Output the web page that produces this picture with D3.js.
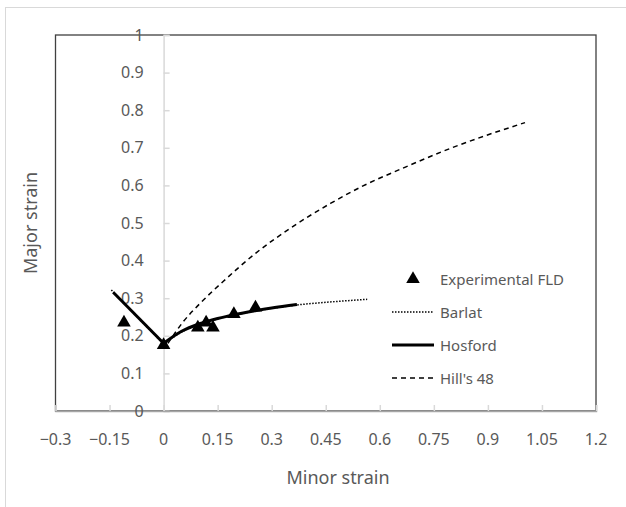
<!DOCTYPE html>
<html>
<head>
<meta charset="utf-8">
<script src="https://cdn.jsdelivr.net/npm/d3@7"></script>
<style>
  body { margin: 0; background: #fff; }
  svg { display: block; font-family: "Noto Sans", "Open Sans", sans-serif; }
</style>
</head>
<body>
<svg width="626" height="507"></svg>
<script>
// data
var xTicks = [-0.3, -0.15, 0, 0.15, 0.3, 0.45, 0.6, 0.75, 0.9, 1.05, 1.2]
var yTicks = [0, 0.1, 0.2, 0.3, 0.4, 0.5, 0.6, 0.7, 0.8, 0.9, 1]

var expX = [-0.11, 0, 0.095, 0.118, 0.137, 0.195, 0.255]
var expY = [0.235, 0.175, 0.222, 0.235, 0.222, 0.258, 0.275]

var barlatX = [-0.145, 0, 0.05, 0.1, 0.15, 0.2, 0.25, 0.3, 0.37, 0.45, 0.565]
var barlatY = [0.322, 0.178, 0.21, 0.231, 0.245, 0.256, 0.265, 0.273, 0.282, 0.289, 0.297]

var hosLeftX = [-0.14, 0]
var hosLeftY = [0.316, 0.18]
var hosRightX = [0, 0.05, 0.1, 0.15, 0.2, 0.25, 0.3, 0.37]
var hosRightY = [0.18, 0.212, 0.232, 0.246, 0.257, 0.266, 0.274, 0.283]

var hillX = [0.012, 0.055, 0.1, 0.166, 0.256, 0.35, 0.463, 0.55, 0.662, 0.8, 1.003]
var hillY = [0.18, 0.238, 0.285, 0.345, 0.42, 0.485, 0.552, 0.597, 0.645, 0.7, 0.767]

var legendNames = ['Experimental FLD', 'Barlat', 'Hosford', "Hill's 48"]

var svg = d3.select('svg')
var grey = '#595959'

var x = d3.scaleLinear().domain([-0.3, 1.2]).range([55.5, 596])
var y = d3.scaleLinear().domain([0, 1]).range([411, 35])

// outer chart frame
svg.append('rect')
    .attr('x', 5.5).attr('y', 7.5)
    .attr('width', 660).attr('height', 540)
    .style('fill', 'none')
    .style('stroke', '#d9d9d9')

// plot frame
svg.append('rect')
    .attr('x', x(-0.3)).attr('y', y(1))
    .attr('width', x(1.2) - x(-0.3)).attr('height', y(0) - y(1))
    .style('fill', 'none')
    .style('stroke', '#404040')
    .style('stroke-width', 1.3)

// y axis at x = 0
var yAxis = d3.axisRight(y).tickValues(yTicks).tickSize(6).tickFormat('')
var gy = svg.append('g')
    .attr('transform', 'translate(' + x(0) + ',0)')
    .call(yAxis)
gy.selectAll('line, path').style('stroke', '#d9d9d9').style('stroke-width', 1.5)

// x axis at y = 0
var xAxis = d3.axisTop(x).tickValues(xTicks).tickSize(6).tickFormat('')
var gx = svg.append('g')
    .attr('transform', 'translate(0,' + y(0) + ')')
    .call(xAxis)
gx.selectAll('line').style('stroke', '#d9d9d9').style('stroke-width', 1.5)
gx.select('path').style('stroke', '#a6a6a6').style('stroke-width', 1.5)

// tick labels
svg.append('g').selectAll('text')
    .data(xTicks)
    .join('text')
    .attr('x', d => x(d))
    .attr('y', 445)
    .attr('text-anchor', 'middle')
    .style('font-size', '16px')
    .style('fill', grey)
    .text(d => d3.format('')(d))

svg.append('g').selectAll('text')
    .data(yTicks)
    .join('text')
    .attr('x', x(0) - 20)
    .attr('y', d => y(d) + 5.5)
    .attr('text-anchor', 'end')
    .style('font-size', '16px')
    .style('fill', grey)
    .text(d => d3.format('')(d))

// axis titles
svg.append('text')
    .attr('x', 338)
    .attr('y', 484)
    .attr('text-anchor', 'middle')
    .style('font-size', '18px')
    .style('fill', grey)
    .text('Minor strain')

svg.append('text')
    .attr('transform', 'translate(37,' + y(0.5) + ') rotate(-90)')
    .attr('text-anchor', 'middle')
    .style('font-size', '18px')
    .style('fill', grey)
    .text('Major strain')

var line = d3.line().x(d => x(d[0])).y(d => y(d[1])).curve(d3.curveMonotoneX)
var seg = d3.line().x(d => x(d[0])).y(d => y(d[1]))

// Hill's 48
svg.append('path')
    .datum(d3.zip(hillX, hillY))
    .attr('d', line)
    .style('fill', 'none')
    .style('stroke', '#000')
    .style('stroke-width', 1.5)
    .style('stroke-dasharray', '5,4')

// Barlat
svg.append('path')
    .datum(d3.zip(barlatX.slice(0, 2), barlatY.slice(0, 2)))
    .attr('d', seg)
    .style('fill', 'none')
    .style('stroke', '#000')
    .style('stroke-width', 1.5)
    .style('stroke-dasharray', '1.5,1.5')
svg.append('path')
    .datum(d3.zip(barlatX.slice(1), barlatY.slice(1)))
    .attr('d', line)
    .style('fill', 'none')
    .style('stroke', '#000')
    .style('stroke-width', 1.5)
    .style('stroke-dasharray', '1.5,1.5')

// Hosford
svg.append('path')
    .datum(d3.zip(hosLeftX, hosLeftY))
    .attr('d', seg)
    .style('fill', 'none')
    .style('stroke', '#000')
    .style('stroke-width', 3)
svg.append('path')
    .datum(d3.zip(hosRightX, hosRightY))
    .attr('d', line)
    .style('fill', 'none')
    .style('stroke', '#000')
    .style('stroke-width', 3)

// experimental points
var tri = d3.symbol().type(d3.symbolTriangle).size(80)
svg.append('g').selectAll('path')
    .data(d3.zip(expX, expY))
    .join('path')
    .attr('transform', d => 'translate(' + x(d[0]) + ',' + y(d[1]) + ')')
    .attr('d', tri)
    .style('fill', '#000')

// legend
var lg = svg.append('g').attr('transform', 'translate(392,279)')
var row = 33
lg.append('path')
    .attr('transform', 'translate(21,0)')
    .attr('d', tri)
    .style('fill', '#000')
var dashes = [['1.5,1.5', 1.5], [null, 3], ['5,4', 1.5]]
dashes.forEach(function (s, i) {
    var l = lg.append('line')
        .attr('x1', 0).attr('x2', 42)
        .attr('y1', row * (i + 1)).attr('y2', row * (i + 1))
        .style('stroke', '#000')
        .style('stroke-width', s[1])
    if (s[0]) l.style('stroke-dasharray', s[0])
})
lg.selectAll('text')
    .data(legendNames)
    .join('text')
    .attr('x', 48)
    .attr('y', (d, i) => i * row + 5.5)
    .style('font-size', '15px')
    .style('fill', grey)
    .text(d => d)
</script>
</body>
</html>
